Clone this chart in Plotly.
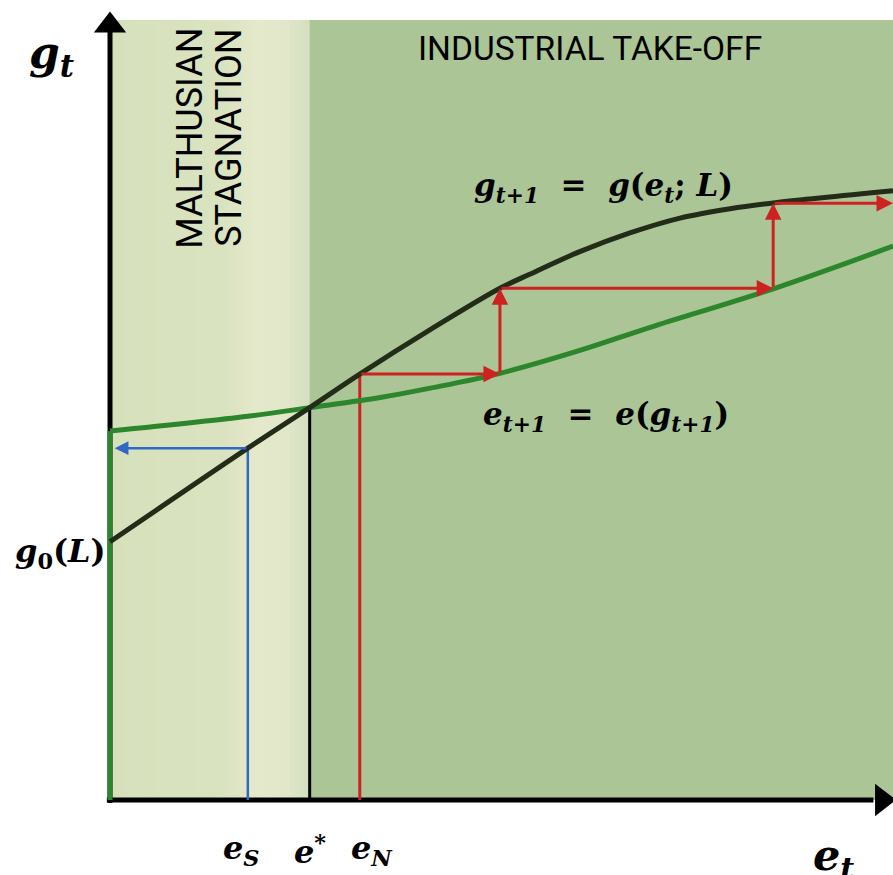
import plotly.graph_objects as go

# Curve g_{t+1} = g(e_t; L)
g_map_e = [0.0, 1.76, 2.55, 3.19, 4.09, 4.98, 5.36, 6.00, 6.64, 7.28, 7.92, 8.52, 10.0]
g_map_g = [3.31, 4.51, 5.03, 5.46, 6.03, 6.56, 6.74, 7.03, 7.27, 7.46, 7.58, 7.66, 7.81]

# Curve e_{t+1} = e(g_{t+1}); it sits on the vertical axis below g = 4.73
e_map_e = [0.0, 1.76, 2.55, 3.45, 4.09, 4.98, 5.99, 6.90, 8.49, 10.0]
e_map_g = [4.73, 4.92, 5.03, 5.16, 5.28, 5.47, 5.76, 6.06, 6.56, 7.10]

# Thresholds on the education axis and the matching growth rates
e_S, g_S = 1.76, 4.51
e_star, g_star = 2.55, 5.03
e_N = 3.19

# Dynamics starting from e_N: education levels and growth rates at each step
step_e = [3.19, 4.98, 8.47]
step_g = [5.46, 6.56, 7.65]
e_max = 10.0
g_top = 10.0

DARK = "rgb(34,44,24)"
GREEN = "rgb(44,134,44)"
RED = "rgb(206,34,34)"
BLUE = "rgb(48,104,196)"

fig = go.Figure()

# Background regions
def mix(c1, c2, t):
    return "rgb(%d,%d,%d)" % tuple(round(a + (b - a) * t) for a, b in zip(c1, c2))

grad_stops = [(0.0, (214, 225, 188)), (1.45, (218, 227, 192)), (1.9, (229, 233, 203)),
              (2.25, (226, 231, 202)), (2.55, (210, 223, 192))]
n_strips = 40
for i in range(n_strips):
    x0 = e_star * i / n_strips
    x1 = e_star * (i + 1) / n_strips
    xm = (x0 + x1) / 2
    for (a, ca), (b, cb) in zip(grad_stops[:-1], grad_stops[1:]):
        if a <= xm <= b:
            col = mix(ca, cb, (xm - a) / (b - a))
            break
    fig.add_shape(type="rect", x0=x0, x1=x1 + 0.01, y0=0, y1=g_top,
                  fillcolor=col, line_width=0, layer="below")
fig.add_shape(type="rect", x0=e_star, x1=e_max + 0.2, y0=0, y1=g_top,
              fillcolor="rgb(171,197,150)", line_width=0, layer="below")

# Axes
fig.add_trace(go.Scatter(x=[0, 0], y=[-0.04, 9.85], mode="lines",
                         line=dict(color="black", width=5)))
fig.add_trace(go.Scatter(x=[-0.04, 9.75], y=[0, 0], mode="lines",
                         line=dict(color="black", width=5)))
fig.add_trace(go.Scatter(x=[0], y=[9.93], mode="markers",
                         marker=dict(symbol="triangle-up", size=28, color="black")))
fig.add_trace(go.Scatter(x=[9.86], y=[0], mode="markers",
                         marker=dict(symbol="triangle-right", size=28, color="black")))

# Vertical guides at e_S, e*, e_N
fig.add_trace(go.Scatter(x=[e_star, e_star], y=[0, g_star], mode="lines",
                         line=dict(color="black", width=3)))
fig.add_trace(go.Scatter(x=[e_S, e_S], y=[0, g_S], mode="lines",
                         line=dict(color=BLUE, width=2.5)))
fig.add_trace(go.Scatter(x=[e_N, e_N], y=[0, step_g[0]], mode="lines",
                         line=dict(color=RED, width=3)))

# The two maps
fig.add_trace(go.Scatter(x=[0, 0], y=[0, e_map_g[0]], mode="lines",
                         line=dict(color=GREEN, width=5)))
fig.add_trace(go.Scatter(x=e_map_e, y=e_map_g, mode="lines",
                         line=dict(color=GREEN, width=5, shape="spline", smoothing=1.0)))
fig.add_trace(go.Scatter(x=g_map_e, y=g_map_g, mode="lines",
                         line=dict(color=DARK, width=5, shape="spline", smoothing=0.9)))

# Arrows
def arrow(x0, y0, x1, y1, color, width):
    fig.add_annotation(x=x1, y=y1, ax=x0, ay=y0, xref="x", yref="y", axref="x", ayref="y",
                       text="", showarrow=True, arrowhead=2, arrowsize=1.1,
                       arrowwidth=width, arrowcolor=color, standoff=0)

arrow(e_S, g_S, 0.06, g_S, BLUE, 2.5)
nxt_e = step_e[1:] + [e_max]
for k in range(len(step_e)):
    arrow(step_e[k], step_g[k], nxt_e[k], step_g[k], RED, 3)
    if k + 1 < len(step_e):
        arrow(nxt_e[k], step_g[k], nxt_e[k], step_g[k + 1], RED, 3)

# Labels
SERIF = "DejaVu Serif"
def label(x, y, text, size, xanchor="center", family=SERIF, angle=0, color="black"):
    fig.add_annotation(x=x, y=y, xref="x", yref="y", text=text, showarrow=False,
                       xanchor=xanchor, yanchor="middle", textangle=angle,
                       font=dict(family=family, size=size, color=color))

label(-0.75, 9.55, "<b><i>g<sub>t</sub></i></b>", 44)
label(8.95, -0.74, "<b><i>e<sub>t</sub></i></b>", 43, xanchor="left")
label(-0.03, 3.16, "<b><i>g</i><sub>0</sub>(<i>L</i>)</b>", 32, xanchor="right")
label(e_S - 0.08, -0.64, "<b><i>e<sub>S</sub></i></b>", 32)
label(e_star, -0.64, "<b><i>e</i><sup>*</sup></b>", 32)
label(e_N + 0.15, -0.64, "<b><i>e<sub>N</sub></i></b>", 32)
label(6.30, 7.85, "<b><i>g<sub>t+1</sub></i>&nbsp;&nbsp;=&nbsp;&nbsp;<i>g</i>(<i>e<sub>t</sub></i>; <i>L</i>)</b>", 31)
label(6.33, 4.92, "<b><i>e<sub>t+1</sub></i>&nbsp;&nbsp;=&nbsp;&nbsp;<i>e</i>(<i>g<sub>t+1</sub></i>)</b>", 31)
label(6.13, 9.64, "INDUSTRIAL TAKE-OFF", 33.5, family="Roboto")
label(1.02, 8.49, "MALTHUSIAN", 36, family="Roboto", angle=-90)
label(1.52, 8.49, "STAGNATION", 36, family="Roboto", angle=-90)

fig.update_layout(
    width=893, height=875,
    margin=dict(l=0, r=0, t=0, b=0),
    paper_bgcolor="white", plot_bgcolor="white",
    showlegend=False,
    xaxis=dict(range=[-1.405, 10.0], visible=False, fixedrange=True),
    yaxis=dict(range=[-0.962, 10.256], visible=False, fixedrange=True),
)

fig.write_html("out.html")
